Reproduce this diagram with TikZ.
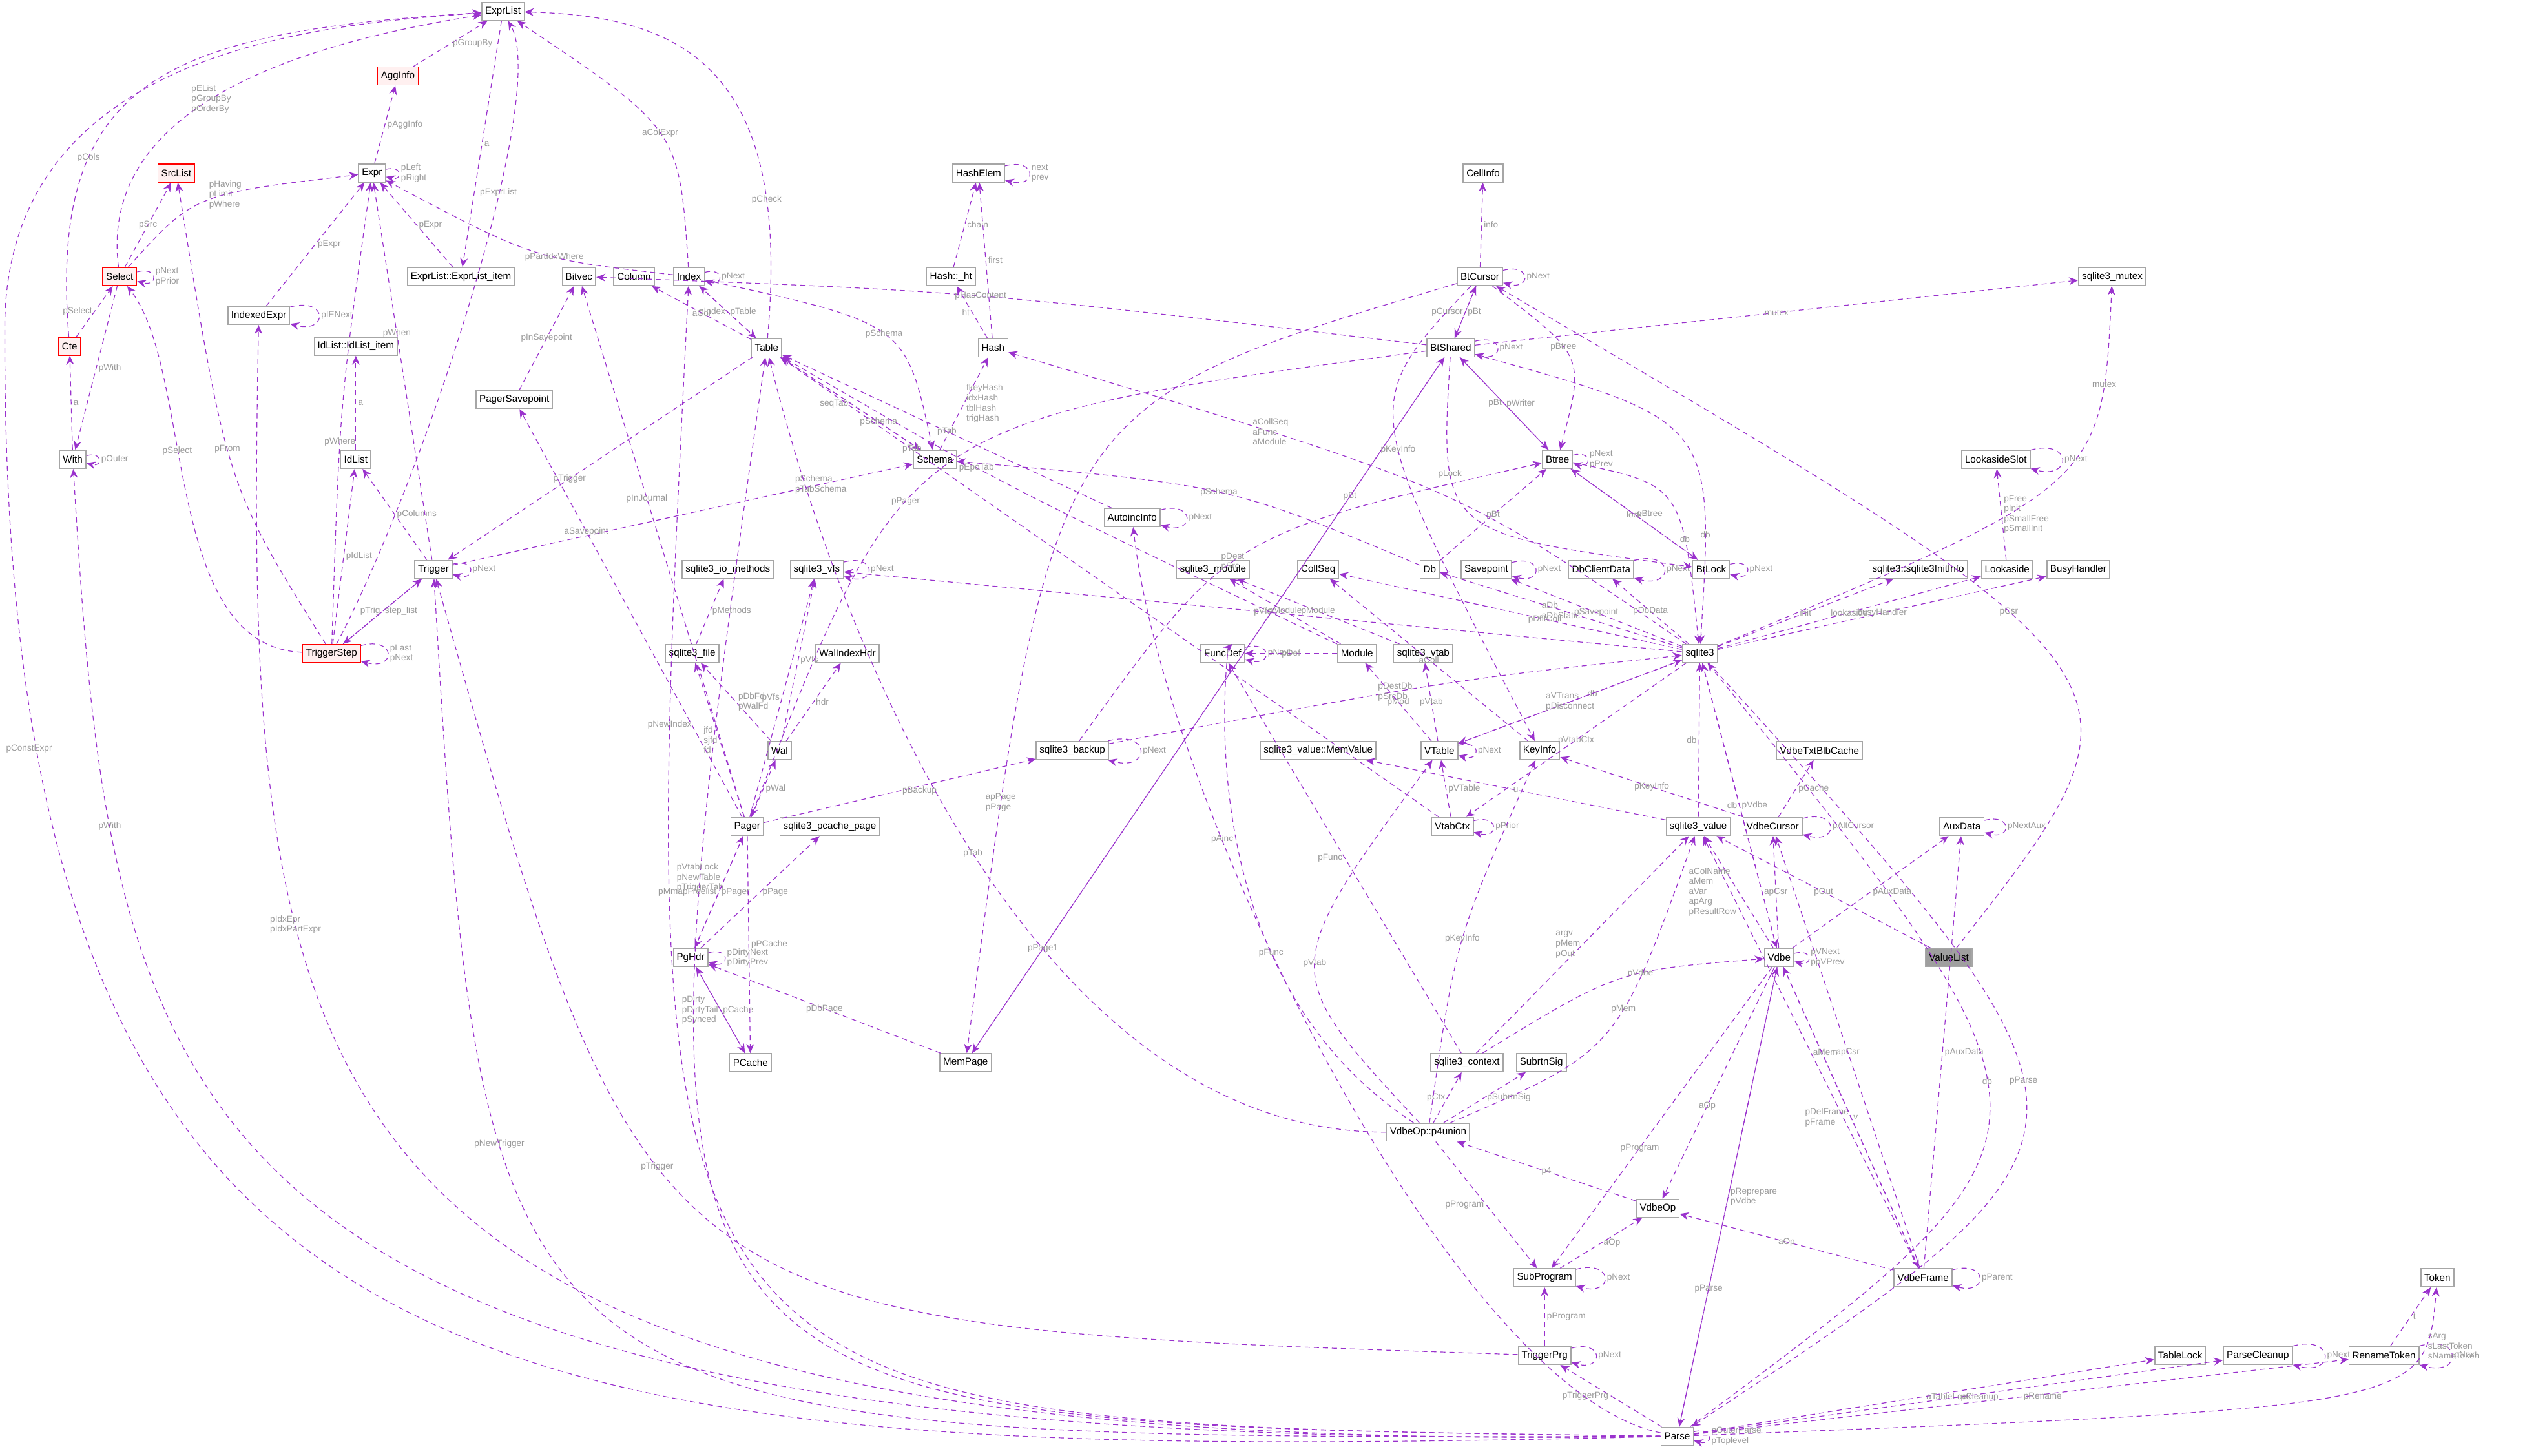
\documentclass[tikz,border=0pt]{standalone}
\usepackage{fontspec}
\setmainfont{Liberation Sans}
\usetikzlibrary{arrows.meta}
\definecolor{linkc}{HTML}{9A32CD}
\definecolor{lblc}{HTML}{9A9A9A}
\tikzset{
  cls/.style={draw=gray!70,line width=0.4pt,fill=white,rectangle,inner sep=1.3pt,minimum height=7pt,font=\fontsize{3.8}{4.2}\selectfont},
  redcls/.style={cls,draw=red,fill=red!6},
  graycls/.style={cls,fill=gray!75},
  link/.style={draw=linkc,dashed,dash pattern=on 2pt off 1.5pt,line width=0.3pt,-{Stealth[length=3.5pt,width=3pt]}},
  lbl/.style={font=\fontsize{3.4}{3.9}\selectfont,text=lblc,align=left,inner sep=0.8pt,fill=none},
  selfr/.style={link,loop right,looseness=6,min distance=6pt},
}
\begin{document}
\begin{tikzpicture}[x=0.626pt,y=-0.626pt]
\useasboundingbox (0,0) rectangle (1568,900);
 % nodes
  \node (exprlist) at (311,7) [cls] {ExprList};
  \node (agginfo) at (246,47) [redcls] {AggInfo};
  \node (srclist) at (109,107) [redcls] {SrcList};
  \node (expr) at (230,107) [cls] {Expr};
  \node (select) at (74,171) [redcls] {Select};
  \node (cte) at (43,214) [redcls] {Cte};
  \node (with) at (45,284) [cls] {With};
  \node (idxexpr) at (160,195) [cls] {IndexedExpr};
  \node (eitem) at (285,171) [cls] {ExprList::ExprList\_item};
  \node (iditem) at (220,214) [cls] {IdList::IdList\_item};
  \node (idlist) at (220,284) [cls] {IdList};
  \node (bitvec) at (358,171) [cls] {Bitvec};
  \node (column) at (392,171) [cls] {Column};
  \node (index) at (426,171) [cls] {Index};
  \node (table) at (474,215) [cls] {Table};
  \node (pgsave) at (318,247) [cls] {PagerSavepoint};
  \node (trigger) at (268,352) [cls] {Trigger};
  \node (tstep) at (205,404) [redcls] {TriggerStep};
  \node (iometh) at (450,352) [cls] {sqlite3\_io\_methods};
  \node (vfs) at (505,352) [cls] {sqlite3\_vfs};
  \node (file) at (428,404) [cls] {sqlite3\_file};
  \node (walhdr) at (524,404) [cls] {WalIndexHdr};
  \node (wal) at (482,464) [cls] {Wal};
  \node (pager) at (462,511) [cls] {Pager};
  \node (pcpage) at (513,511) [cls] {sqlite3\_pcache\_page};
  \node (pghdr) at (427,592) [cls] {PgHdr};
  \node (pcache) at (464,657) [cls] {PCache};
  \node (mempage) at (597,657) [cls] {MemPage};
  \node (hashelem) at (605,107) [cls] {HashElem};
  \node (hashht) at (588,171) [cls] {Hash::\_ht};
  \node (hash) at (614,215) [cls] {Hash};
  \node (schema) at (578,284) [cls] {Schema};
  \node (autoinc) at (700,320) [cls] {AutoincInfo};
  \node (module3) at (750,352) [cls] {sqlite3\_module};
  \node (collseq) at (815,352) [cls] {CollSeq};
  \node (db) at (884,352) [cls] {Db};
  \node (savept) at (919,352) [cls] {Savepoint};
  \node (dbcd) at (990,352) [cls] {DbClientData};
  \node (btlock) at (1058,352) [cls] {BtLock};
  \node (cellinfo) at (917,107) [cls] {CellInfo};
  \node (btcursor) at (915,171) [cls] {BtCursor};
  \node (btshared) at (897,215) [cls] {BtShared};
  \node (btree) at (963,284) [cls] {Btree};
  \node (mutex) at (1306,171) [cls] {sqlite3\_mutex};
  \node (laslot) at (1234,284) [cls] {LookasideSlot};
  \node (initinfo) at (1186,352) [cls] {sqlite3::sqlite3InitInfo};
  \node (lookaside) at (1241,352) [cls] {Lookaside};
  \node (busy) at (1285,352) [cls] {BusyHandler};
  \node (funcdef) at (756,404) [cls] {FuncDef};
  \node (module) at (839,404) [cls] {Module};
  \node (vtab) at (880,404) [cls] {sqlite3\_vtab};
  \node (sqlite3) at (1051,404) [cls] {sqlite3};
  \node (backup) at (663,464) [cls] {sqlite3\_backup};
  \node (memval) at (815,464) [cls] {sqlite3\_value::MemValue};
  \node (vtable) at (890,464) [cls] {VTable};
  \node (keyinfo) at (952,464) [cls] {KeyInfo};
  \node (txtblb) at (1125,464) [cls] {VdbeTxtBlbCache};
  \node (vtabctx) at (898,511) [cls] {VtabCtx};
  \node (value) at (1050,511) [cls] {sqlite3\_value};
  \node (vcursor) at (1096,511) [cls] {VdbeCursor};
  \node (auxdata) at (1213,511) [cls] {AuxData};
  \node (vlist) at (1205,592) [graycls] {ValueList};
  \node (vdbe) at (1100,592) [cls] {Vdbe};
  \node (context) at (907,657) [cls] {sqlite3\_context};
  \node (subsig) at (953,657) [cls] {SubrtnSig};
  \node (p4union) at (883,700) [cls] {VdbeOp::p4union};
  \node (vdbeop) at (1025,747) [cls] {VdbeOp};
  \node (subprog) at (955,790) [cls] {SubProgram};
  \node (vframe) at (1189,790) [cls] {VdbeFrame};
  \node (tprg) at (955,838) [cls] {TriggerPrg};
  \node (parse) at (1037,888) [cls] {Parse};
  \node (tlock) at (1348,838) [cls] {TableLock};
  \node (pclean) at (1396,838) [cls] {ParseCleanup};
  \node (rtoken) at (1474,838) [cls] {RenameToken};
  \node (token) at (1507,790) [cls] {Token};
 % self loops
  \foreach \n/\t in {expr/{pLeft\\pRight},select/{pNext\\pPrior},with/pOuter,idxexpr/pIENext,
    index/pNext,trigger/pNext,tstep/{pLast\\pNext},vfs/pNext,pghdr/{pDirtyNext\\pDirtyPrev},
    hashelem/{next\\prev},autoinc/pNext,savept/pNext,dbcd/pNext,btlock/pNext,btcursor/pNext,
    btshared/pNext,btree/{pNext\\pPrev},laslot/pNext,funcdef/pNext,backup/pNext,vtable/pNext,
    vtabctx/pPrior,vcursor/pAltCursor,auxdata/pNextAux,vdbe/{pVNext\\ppVPrev},subprog/pNext,
    vframe/pParent,tprg/pNext,pclean/pNext,rtoken/pNext,parse/{pOuterParse\\pToplevel}}
    \path (\n) edge[selfr] node[lbl,right] {\t} (\n);
 % links
  \path[link] (select) .. controls (60,60) and (200,25) .. node[lbl,pos=.45] {pEList\\pGroupBy\\pOrderBy} (exprlist);
  \path[link] (cte) .. controls (30,50) and (100,20) .. node[lbl,pos=.3] {pCols} (exprlist);
  \path[link] (parse) .. controls (300,905) and (0,880) .. (3,200) .. controls (5,30) and (200,15) .. (exprlist);
  \node[lbl] at (18,463) {pConstExpr};
  \path[link] (agginfo) -- node[lbl,right] {pGroupBy} (exprlist);
  \path[link] (exprlist) -- node[lbl,right] {a} (eitem);
  \path[link] (eitem) -- node[lbl,right] {pExpr} (expr);
  \path[link] (tstep) .. controls (260,300) and (340,60) .. node[lbl,pos=.65] {pExprList} (exprlist);
  \path[link] (index) .. controls (420,80) .. node[lbl] {aColExpr} (exprlist);
  \path[link] (table) .. controls (490,40) and (420,10) .. node[lbl,pos=.2] {pCheck} (exprlist);
  \path[link] (expr) -- node[lbl,right] {pAggInfo} (agginfo);
  \path[link] (select) -- node[lbl] {pSrc} (srclist);
  \path[link] (select) .. controls (120,120) .. node[lbl,pos=.6] {pHaving\\pLimit\\pWhere} (expr);
  \path[link] (idxexpr) -- node[lbl,right] {pExpr} (expr);
  \path[link] (index) .. controls (330,160) .. node[lbl,pos=.4] {pPartIdxWhere} (expr);
  \path[link] (tstep) .. controls (210,250) .. node[lbl,pos=.4] {pWhere} (expr);
  \path[link] (trigger) -- node[lbl,pos=.6] {pWhen} (expr);
  \path[link] (cte) -- node[lbl,left] {pSelect} (select);
  \path[link] (select) -- node[lbl,right] {pWith} (with);
  \path[link] (with) -- node[lbl,right] {a} (cte);
  \path[link] (tstep) .. controls (100,400) and (120,230) .. node[lbl,pos=.6] {pSelect} (select);
  \path[link] (tstep) .. controls (140,300) .. node[lbl,pos=.55] {pFrom} (srclist);
  \path[link] (parse) .. controls (180,900) and (150,700) .. node[lbl,pos=.7] {pIdxEpr\\pIdxPartExpr} (idxexpr);
  \path[link] (parse) .. controls (100,900) and (70,700) .. node[lbl,pos=.8] {pWith} (with);
  \path[link] (idlist) -- node[lbl,right] {a} (iditem);
  \path[link] (tstep) -- node[lbl,right] {pIdList} (idlist);
  \path[link] (trigger) -- node[lbl,right] {pColumns} (idlist);
  \path[link] (tstep) -- node[lbl,left] {pTrig} (trigger);
  \path[link] (trigger) -- node[lbl,right] {step\_list} (tstep);
  \path[link] (table) -- node[lbl,pos=.6] {pTrigger} (trigger);
  \path[link] (trigger) -- node[lbl,pos=.8] {pSchema\\pTabSchema} (schema);
  \path[link] (parse) .. controls (300,890) .. node[lbl,pos=.7] {pNewTrigger} (trigger);
  \path[link] (tprg) .. controls (400,820) .. node[lbl,pos=.6] {pTrigger} (trigger);
  \path[link] (parse) .. controls (380,880) .. node[lbl,pos=.8] {pVtabLock\\pNewTable\\pTriggerTab} (table);
  \path[link] (parse) .. controls (390,880) .. node[lbl,pos=.85] {pNewIndex} (index);
  \path[link] (pgsave) -- node[lbl] {pInSavepoint} (bitvec);
  \path[link] (pager) -- node[lbl,pos=.7] {aSavepoint} (pgsave);
  \path[link] (pager) -- node[lbl,pos=.6] {pInJournal} (bitvec);
  \path[link] (btshared) .. controls (600,180) .. node[lbl,pos=.5] {pHasContent} (bitvec);
  \path[link] (table) -- node[lbl] {aCol} (column);
  \path[link] (table) -- node[lbl,left] {pIndex} (index);
  \path[link] (index) -- node[lbl,right] {pTable} (table);
  \path[link] (index) .. controls (560,200) .. node[lbl] {pSchema} (schema);
  \path[link] (table) -- node[lbl,pos=.7] {pSchema} (schema);
  \path[link] (schema) -- node[lbl,left] {seqTab} (table);
  \path[link] (schema) -- node[lbl,right] {fkeyHash\\idxHash\\tblHash\\trigHash} (hash);
  \path[link] (hash) -- node[lbl,left] {ht} (hashht);
  \path[link] (hash) -- node[lbl,right] {first} (hashelem);
  \path[link] (hashht) -- node[lbl,right] {chain} (hashelem);
  \path[link] (autoinc) -- node[lbl] {pTab} (table);
  \path[link] (parse) .. controls (900,860) and (720,500) .. node[lbl,pos=.7] {pAinc} (autoinc);
  \path[link] (file) -- node[lbl,right] {pMethods} (iometh);
  \path[link] (wal) -- node[lbl,right] {pVfs} (vfs);
  \path[link] (pager) -- node[lbl,left] {pVfs} (vfs);
  \path[link] (sqlite3) -- node[lbl,pos=.5] {pVfs} (vfs);
  \path[link] (wal) -- node[lbl,right] {pDbFd\\pWalFd} (file);
  \path[link] (wal) -- node[lbl,right] {hdr} (walhdr);
  \path[link] (pager) -- node[lbl,left] {jfd\\sjfd\\fd} (file);
  \path[link] (pager) -- node[lbl,right] {pWal} (wal);
  \path[link] (pager) -- node[lbl,left] {pMmapFreelist} (pghdr);
  \path[link] (pghdr) -- node[lbl,right] {pPager} (pager);
  \path[link] (pghdr) -- node[lbl,right] {pPage} (pcpage);
  \path[link] (pcache) -- node[lbl,left] {pDirty\\pDirtyTail\\pSynced} (pghdr);
  \path[link] (pager) -- node[lbl,right] {pPCache} (pcache);
  \path[link] (pghdr) -- node[lbl,right] {pCache} (pcache);
  \path[link] (mempage) -- node[lbl] {pDbPage} (pghdr);
  \path[link] (pager) -- node[lbl,right] {pBackup} (backup);
  \path[link] (backup) .. controls (900,420) .. node[lbl,pos=.4] {pDestDb\\pSrcDb} (sqlite3);
  \path[link] (backup) .. controls (760,330) .. node[lbl,pos=.45] {pDest\\pSrc} (btree);
  \path[link] (mempage) -- node[lbl,pos=.8] {pBt} (btshared);
  \path[link] (btshared) -- node[lbl,pos=.85] {pPage1} (mempage);
  \path[link] (btcursor) .. controls (650,250) .. node[lbl,pos=.85] {apPage\\pPage} (mempage);
  \path[link] (btshared) .. controls (560,260) .. node[lbl,pos=.6] {pPager} (pager);
  \path[link] (btcursor) -- node[lbl,right] {info} (cellinfo);
  \path[link] (btshared) -- node[lbl,left] {pCursor} (btcursor);
  \path[link] (btcursor) -- node[lbl,right] {pBt} (btshared);
  \path[link] (btcursor) .. controls (980,220) .. node[lbl,pos=.4] {pBtree} (btree);
  \path[link] (btcursor) .. controls (840,250) .. node[lbl,pos=.55] {pKeyInfo} (keyinfo);
  \path[link] (btree) -- node[lbl,left] {pBt} (btshared);
  \path[link] (btshared) -- node[lbl,right] {pWriter} (btree);
  \path[link] (btshared) .. controls (890,330) .. node[lbl,pos=.3] {pLock} (btlock);
  \path[link] (btshared) -- node[lbl] {mutex} (mutex);
  \path[link] (btshared) .. controls (1060,260) .. node[lbl,pos=.8] {db} (sqlite3);
  \path[link] (btree) .. controls (1040,300) .. node[lbl,pos=.7] {db} (sqlite3);
  \path[link] (btree) -- node[lbl] {lock} (btlock);
  \path[link] (btlock) -- node[lbl,right] {pBtree} (btree);
  \path[link] (db) -- node[lbl] {pBt} (btree);
  \path[link] (db) .. controls (760,300) .. node[lbl,pos=.5] {pSchema} (schema);
  \path[link] (sqlite3) -- node[lbl] {aDb\\aDbStatic} (db);
  \path[link] (sqlite3) -- node[lbl] {pSavepoint} (savept);
  \path[link] (sqlite3) -- node[lbl] {pDbData} (dbcd);
  \path[link] (sqlite3) -- node[lbl,pos=.4] {pDfltColl} (collseq);
  \path[link] (keyinfo) -- node[lbl] {aColl} (collseq);
  \path[link] (sqlite3) .. controls (900,300) .. node[lbl,pos=.75] {aCollSeq\\aFunc\\aModule} (hash);
  \path[link] (module) -- node[lbl] {pModule} (module3);
  \path[link] (vtab) -- node[lbl] {pModule} (module3);
  \path[link] (module) .. controls (620,300) .. node[lbl,pos=.6] {pEpoTab} (table);
  \path[link] (context) -- node[lbl,left] {pFunc} (funcdef);
  \path[link] (module) -- node[lbl] {pDef} (funcdef);
  \path[link] (vtable) -- node[lbl] {pMod} (module);
  \path[link] (vtable) -- node[lbl] {pVtab} (vtab);
  \path[link] (vtable) -- node[lbl,pos=.6] {db} (sqlite3);
  \path[link] (vtabctx) -- node[lbl,right] {pVTable} (vtable);
  \path[link] (vtabctx) -- node[lbl,pos=.8] {pTab} (table);
  \path[link] (sqlite3) -- node[lbl] {aVTrans\\pDisconnect} (vtable);
  \path[link] (sqlite3) -- node[lbl] {pVtabCtx} (vtabctx);
  \path[link] (sqlite3) .. controls (1300,300) .. node[lbl,pos=.8] {mutex} (mutex);
  \path[link] (lookaside) -- node[lbl,right] {pFree\\pInit\\pSmallFree\\pSmallInit} (laslot);
  \path[link] (sqlite3) -- node[lbl] {lookaside} (lookaside);
  \path[link] (sqlite3) -- node[lbl] {init} (initinfo);
  \path[link] (sqlite3) -- node[lbl] {busyHandler} (busy);
  \path[link] (sqlite3) -- node[lbl,right] {pVdbe} (vdbe);
  \path[link] (vdbe) -- node[lbl,left] {db} (sqlite3);
  \path[link] (value) -- node[lbl,left] {db} (sqlite3);
  \path[link] (value) -- node[lbl] {u} (memval);
  \path[link] (parse) .. controls (1290,700) .. node[lbl,pos=.55] {db} (sqlite3);
  \path[link] (sqlite3) .. controls (1320,700) .. node[lbl,pos=.45] {pParse} (parse);
  \path[link] (vcursor) -- node[lbl] {pKeyInfo} (keyinfo);
  \path[link] (vcursor) -- node[lbl,right] {pCache} (txtblb);
  \path[link] (vdbe) -- node[lbl] {apCsr} (vcursor);
  \path[link] (vdbe) -- node[lbl,left] {aColName\\aMem\\aVar\\apArg\\pResultRow} (value);
  \path[link] (vdbe) -- node[lbl,pos=.6] {aOp} (vdbeop);
  \path[link] (vdbe) -- node[lbl,pos=.7] {pParse} (parse);
  \path[link] (vdbe) -- node[lbl,left] {pDelFrame\\pFrame} (vframe);
  \path[link] (vdbe) -- node[lbl,right] {pAuxData} (auxdata);
  \path[link] (vlist) -- node[lbl] {pOut} (value);
  \path[link] (vlist) .. controls (1340,420) .. node[lbl,pos=.6] {pCsr} (btcursor);
  \path[link] (context) -- node[lbl,left] {argv\\pMem\\pOut} (value);
  \path[link] (context) .. controls (1000,600) .. node[lbl,pos=.6] {pVdbe} (vdbe);
  \path[link] (p4union) -- node[lbl,left] {pCtx} (context);
  \path[link] (p4union) -- node[lbl,right] {pSubrtnSig} (subsig);
  \path[link] (p4union) .. controls (790,600) .. node[lbl,pos=.5] {pVtab} (vtable);
  \path[link] (p4union) .. controls (900,580) .. node[lbl,pos=.5] {pKeyInfo} (keyinfo);
  \path[link] (p4union) .. controls (1000,650) .. node[lbl,pos=.6] {pMem} (value);
  \path[link] (p4union) .. controls (730,600) and (760,400) .. node[lbl,pos=.3] {pFunc} (funcdef);
  \path[link] (p4union) .. controls (640,700) and (520,400) .. node[lbl,pos=.5] {pTab} (table);
  \path[link] (p4union) -- node[lbl,left] {pProgram} (subprog);
  \path[link] (vdbeop) -- node[lbl] {p4} (p4union);
  \path[link] (subprog) -- node[lbl,right] {aOp} (vdbeop);
  \path[link] (vdbe) -- node[lbl,pos=.6] {pProgram} (subprog);
  \path[link] (tprg) -- node[lbl,right] {pProgram} (subprog);
  \path[link] (parse) -- node[lbl,left] {pTriggerPrg} (tprg);
  \path[link] (parse) -- node[lbl,right] {pReprepare\\pVdbe} (vdbe);
  \path[link] (vframe) -- node[lbl,right] {v} (vdbe);
  \path[link] (vframe) -- node[lbl] {aOp} (vdbeop);
  \path[link] (vframe) -- node[lbl,right] {aMem} (value);
  \path[link] (vframe) -- node[lbl] {apCsr} (vcursor);
  \path[link] (vframe) -- node[lbl,right] {pAuxData} (auxdata);
  \path[link] (parse) -- node[lbl,right] {aTableLock} (tlock);
  \path[link] (parse) -- node[lbl,right] {pCleanup} (pclean);
  \path[link] (parse) -- node[lbl,right] {pRename} (rtoken);
  \path[link] (rtoken) -- node[lbl,right] {t} (token);
  \path[link] (parse) .. controls (1500,870) .. node[lbl,pos=.8,right] {sArg\\sLastToken\\sNameToken} (token);
\end{tikzpicture}
\end{document}
